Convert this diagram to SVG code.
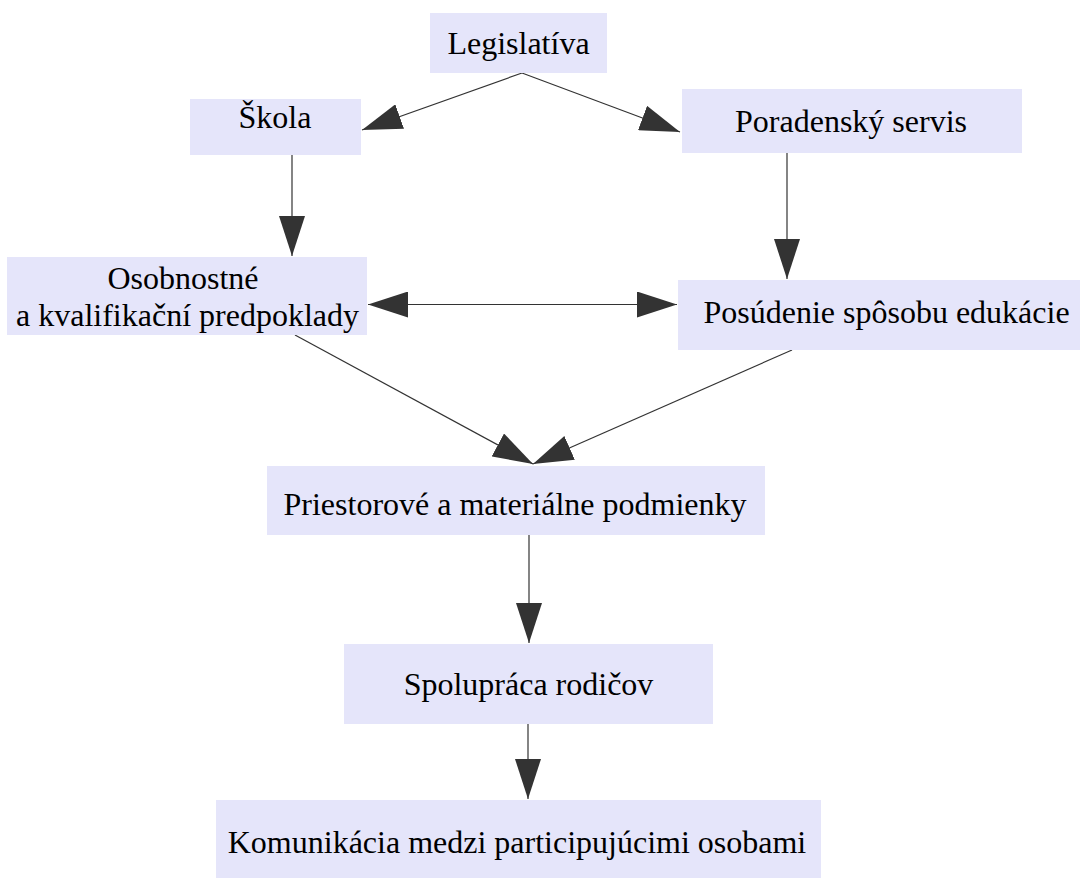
<svg xmlns="http://www.w3.org/2000/svg" width="1080" height="878" viewBox="0 0 1080 878">
<style>
.box{fill:#e5e5fa}
.lbl{font-family:"Liberation Serif","Times New Roman",serif;font-size:32px;fill:#000;text-anchor:middle}
.edge{stroke:#333;stroke-width:1.2;fill:none}
</style>
<defs>
<marker id="ah" markerUnits="userSpaceOnUse" markerWidth="40" markerHeight="26" refX="40" refY="13" orient="auto-start-reverse">
<path d="M0,0 L40,13 L0,26 z" fill="#333"/>
</marker>
</defs>
<rect width="1080" height="878" fill="#fff"/>
<g id="connectors">
<line class="edge" x1="522" y1="73" x2="362" y2="130" marker-end="url(#ah)"/>
<line class="edge" x1="522" y1="73" x2="680" y2="132" marker-end="url(#ah)"/>
<line class="edge" x1="292" y1="155" x2="292" y2="256" marker-end="url(#ah)"/>
<line class="edge" x1="787" y1="153" x2="787" y2="279" marker-end="url(#ah)"/>
<line class="edge" x1="368" y1="304.5" x2="677" y2="304.5" marker-start="url(#ah)" marker-end="url(#ah)"/>
<line class="edge" x1="295" y1="335" x2="533" y2="464" marker-end="url(#ah)"/>
<line class="edge" x1="792" y1="350" x2="533" y2="464" marker-end="url(#ah)"/>
<line class="edge" x1="529" y1="535" x2="529" y2="643" marker-end="url(#ah)"/>
<line class="edge" x1="528" y1="724" x2="528" y2="799" marker-end="url(#ah)"/>
</g>
<g id="legislativa">
<rect class="box" x="430" y="13" width="177" height="60"/>
<text class="lbl" x="518.5" y="54">Legislatíva</text>
</g>
<g id="skola">
<rect class="box" x="190" y="99" width="171" height="56"/>
<text class="lbl" x="275" y="128">Škola</text>
</g>
<g id="poradensky-servis">
<rect class="box" x="682" y="89" width="340" height="64"/>
<text class="lbl" x="851" y="132">Poradenský servis</text>
</g>
<g id="osobnostne">
<rect class="box" x="7" y="257" width="360" height="78"/>
<text class="lbl" x="183" y="289">Osobnostné</text>
<text class="lbl" x="187.5" y="326">a kvalifikační predpoklady</text>
</g>
<g id="posudenie">
<rect class="box" x="678" y="280" width="402" height="70"/>
<text class="lbl" x="886.5" y="323">Posúdenie spôsobu edukácie</text>
</g>
<g id="priestorove">
<rect class="box" x="267" y="466" width="498" height="69"/>
<text class="lbl" x="515" y="515">Priestorové a materiálne podmienky</text>
</g>
<g id="spolupraca">
<rect class="box" x="344" y="644" width="369" height="80"/>
<text class="lbl" x="528.5" y="695">Spolupráca rodičov</text>
</g>
<g id="komunikacia">
<rect class="box" x="216" y="800" width="605" height="78"/>
<text class="lbl" x="517" y="853">Komunikácia medzi participujúcimi osobami</text>
</g>
</svg>
